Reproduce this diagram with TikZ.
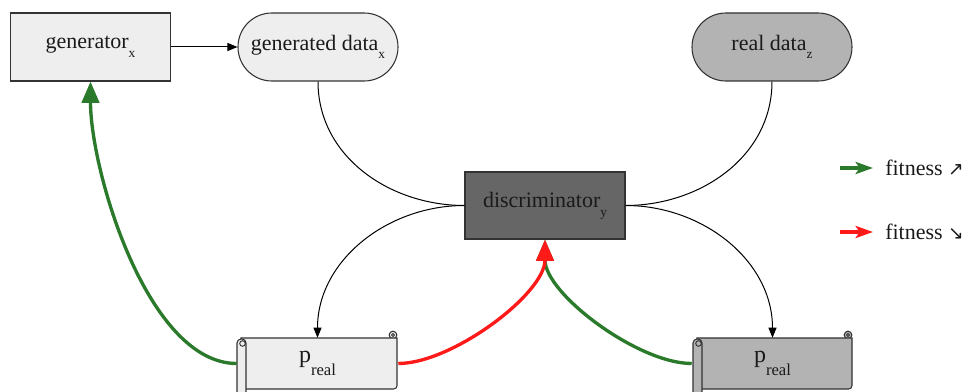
\documentclass[tikz,border=0pt]{standalone}
\usepackage{fontspec}
\setmainfont{Liberation Serif}
\newfontfamily\djv{DejaVu Sans}
\usetikzlibrary{arrows.meta}
\definecolor{lightfill}{HTML}{EEEEEE}
\definecolor{midfill}{HTML}{B3B3B3}
\definecolor{darkfill}{HTML}{666666}
\definecolor{edgecol}{HTML}{333333}
\definecolor{txtcol}{HTML}{1A1A1A}
\definecolor{fitgreen}{HTML}{2B7A2B}
\definecolor{fitred}{HTML}{FF1A1A}
\newcommand{\subsm}[1]{\raisebox{-6.5pt}{\fontsize{10}{10}\selectfont #1}}
\newcommand{\subreal}[1]{\raisebox{-9.5pt}{\fontsize{12.5}{12.5}\selectfont #1}}
% scroll: #1 left x, #2 right x, #3 fill
\newcommand{\drawscroll}[3]{%
  \filldraw[fill=#3,draw=edgecol,line width=0.8pt] (#2-4,335) circle (3.8);
  \draw[edgecol,line width=0.7pt] (#2-4,335) circle (1.5);
  \filldraw[fill=#3,draw=edgecol,line width=0.8pt]
    (#1+4,338) -- (#2,338) [rounded corners=2.5pt] -- (#2,389) [sharp corners] -- (#1+4,389) -- cycle;
  \filldraw[fill=#3,draw=edgecol,line width=0.8pt,rounded corners=3pt]
    (#1,402) -- (#1,339) -- (#1+9,339) -- (#1+9,402);
  \draw[edgecol,line width=0.7pt] (#1+5.5,343.5) circle (2.8);
}
\begin{document}
\begin{tikzpicture}[x=0.75pt,y=-0.75pt,
  box/.style={draw=edgecol, line width=0.8pt, minimum width=120pt, minimum height=51pt,
    inner sep=0pt, text=txtcol, font=\fontsize{16.5}{20}\selectfont},
  pill/.style={box, rounded corners=25.4pt},
  scrollnode/.style={minimum width=120.75pt, minimum height=38.25pt, inner sep=0pt,
    text=txtcol, font=\fontsize{18}{20}\selectfont},
  conn/.style={line width=0.75pt, black},
  arr/.style={conn, -{Triangle[length=7.5pt,width=6pt]}},
  fitarr/.style={line width=2.5pt, looseness=0.72, -{Triangle[length=16pt,width=13pt]}},
  legarr/.style={line width=2.5pt, -{Stealth[length=13pt,width=9pt,inset=3pt]}},
  legtxt/.style={anchor=west, inner sep=0pt, text=txtcol, font=\fontsize{16.5}{20}\selectfont}
]
\useasboundingbox (0,0) rectangle (965,392);

\node[box, fill=lightfill] (gen) at (90.5,47) {generator\subsm{x}};
\node[pill, fill=lightfill] (gd) at (318,47) {generated data\subsm{x}};
\node[pill, fill=midfill] (rd) at (772,47) {real data\subsm{z}};
\node[box, fill=darkfill, minimum height=50.25pt] (disc) at (545,205.5) {discriminator\subsm{y}};

\drawscroll{237}{397}{lightfill}
\drawscroll{693}{852}{midfill}
\node[scrollnode] (p1) at (317.5,363.5) {p\subreal{real}};
\node[scrollnode] (p2) at (772.5,363.5) {p\subreal{real}};

\draw[arr] (gen) -- (gd);
\draw[conn] (gd.south) to[out=-90,in=180] (disc.west);
\draw[conn] (rd.south) to[out=-90,in=0] (disc.east);
\draw[arr] (disc.west) to[out=180,in=90] (p1.north);
\draw[arr] (disc.east) to[out=0,in=90] (p2.north);

\draw[fitarr, fitgreen] (p1.west) to[out=180,in=-90] (gen.south);
\draw[fitarr, fitgreen] (p2.west) to[out=180,in=-90] (disc.south);
\draw[fitarr, fitred] (p1.east) to[out=0,in=-90] (disc.south);

\coordinate (la1) at (840,168);
\coordinate (la2) at (840,232);
\node[legtxt] (lt1) at (885,168) {fitness {\djv\fontsize{14}{14}\selectfont ↗}};
\node[legtxt] (lt2) at (885,232) {fitness {\djv\fontsize{14}{14}\selectfont ↘}};
\draw[legarr, fitgreen, shorten >=12pt*0.75] (la1) -- (lt1.west);
\draw[legarr, fitred, shorten >=12pt*0.75] (la2) -- (lt2.west);
\end{tikzpicture}
\end{document}
